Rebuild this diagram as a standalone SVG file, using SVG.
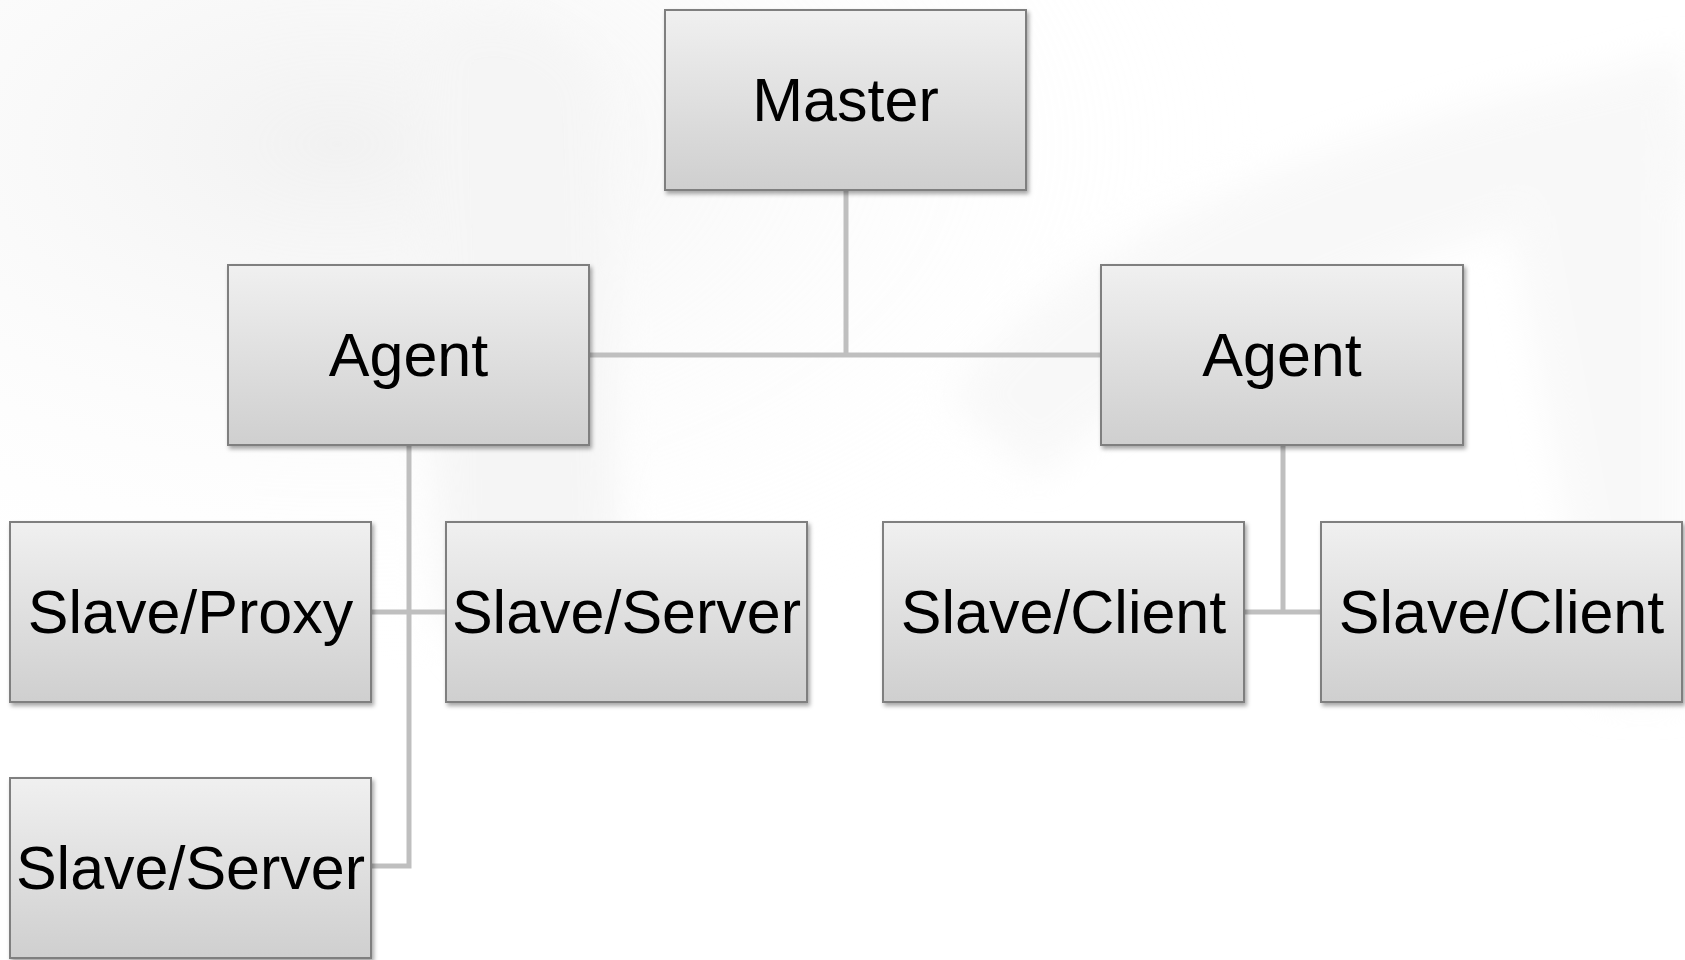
<svg xmlns="http://www.w3.org/2000/svg" width="1685" height="960" viewBox="0 0 1685 960">
  <defs>
    <linearGradient id="boxGrad" x1="0" y1="0" x2="0" y2="1">
      <stop offset="0" stop-color="#f0f0f0"/>
      <stop offset="1" stop-color="#cfcfcf"/>
    </linearGradient>
    <radialGradient id="bgGlow" cx="0.2" cy="0.15" r="0.55">
      <stop offset="0" stop-color="#e4e4e4"/>
      <stop offset="1" stop-color="#ffffff" stop-opacity="0"/>
    </radialGradient>
    <filter id="shadow" x="-5%" y="-5%" width="115%" height="120%">
      <feDropShadow dx="2" dy="3" stdDeviation="2" flood-color="#000" flood-opacity="0.35"/>
    </filter>
    <filter id="soft" x="-20%" y="-20%" width="140%" height="140%">
      <feGaussianBlur stdDeviation="18"/>
    </filter>
  </defs>
  <style>
    .box { fill: url(#boxGrad); stroke: #7f7f7f; stroke-width: 2; filter: url(#shadow); }
    .label { font-family: "Liberation Sans", Arial, sans-serif; font-size: 61px; fill: #000; text-anchor: middle; }
    .conn { stroke: #bfbfbf; stroke-width: 5; fill: none; }
  </style>

  <rect x="0" y="0" width="1685" height="960" fill="#ffffff"/>
  <g id="background" opacity="0.5">
    <rect x="0" y="0" width="1685" height="960" fill="url(#bgGlow)"/>
    <path d="M430 40 C 470 0, 560 10, 600 80 L 620 600 C 560 700, 470 700, 440 600 Z" fill="#ececec" filter="url(#soft)"/>
    <path d="M950 400 C 1050 250, 1300 140, 1620 70 L 1685 50 L 1685 180 C 1400 250, 1170 350, 1040 480 Z" fill="#f2f2f2" filter="url(#soft)"/>
    <path d="M1500 160 L 1685 120 L 1685 700 L 1600 700 Z" fill="#f3f3f3" filter="url(#soft)"/>
  </g>

  <g id="connectors">
    <path class="conn" d="M846 190 V355"/>
    <path class="conn" d="M589 355 H1101"/>
    <path class="conn" d="M409 445 V866 H371"/>
    <path class="conn" d="M371 612 H446"/>
    <path class="conn" d="M1283 445 V612"/>
    <path class="conn" d="M1244 612 H1321"/>
  </g>

  <g id="master">
    <rect class="box" x="665" y="10" width="361" height="180"/>
    <text class="label" x="845.5" y="121">Master</text>
  </g>
  <g id="agent-left">
    <rect class="box" x="228" y="265" width="361" height="180"/>
    <text class="label" x="408.5" y="376">Agent</text>
  </g>
  <g id="agent-right">
    <rect class="box" x="1101" y="265" width="362" height="180"/>
    <text class="label" x="1282" y="376">Agent</text>
  </g>
  <g id="slave-proxy">
    <rect class="box" x="10" y="522" width="361" height="180"/>
    <text class="label" x="190.5" y="633">Slave/Proxy</text>
  </g>
  <g id="slave-server-1">
    <rect class="box" x="446" y="522" width="361" height="180"/>
    <text class="label" x="626.5" y="633">Slave/Server</text>
  </g>
  <g id="slave-client-1">
    <rect class="box" x="883" y="522" width="361" height="180"/>
    <text class="label" x="1063.5" y="633">Slave/Client</text>
  </g>
  <g id="slave-client-2">
    <rect class="box" x="1321" y="522" width="361" height="180"/>
    <text class="label" x="1501.5" y="633">Slave/Client</text>
  </g>
  <g id="slave-server-2">
    <rect class="box" x="10" y="778" width="361" height="180"/>
    <text class="label" x="190.5" y="889">Slave/Server</text>
  </g>
</svg>
